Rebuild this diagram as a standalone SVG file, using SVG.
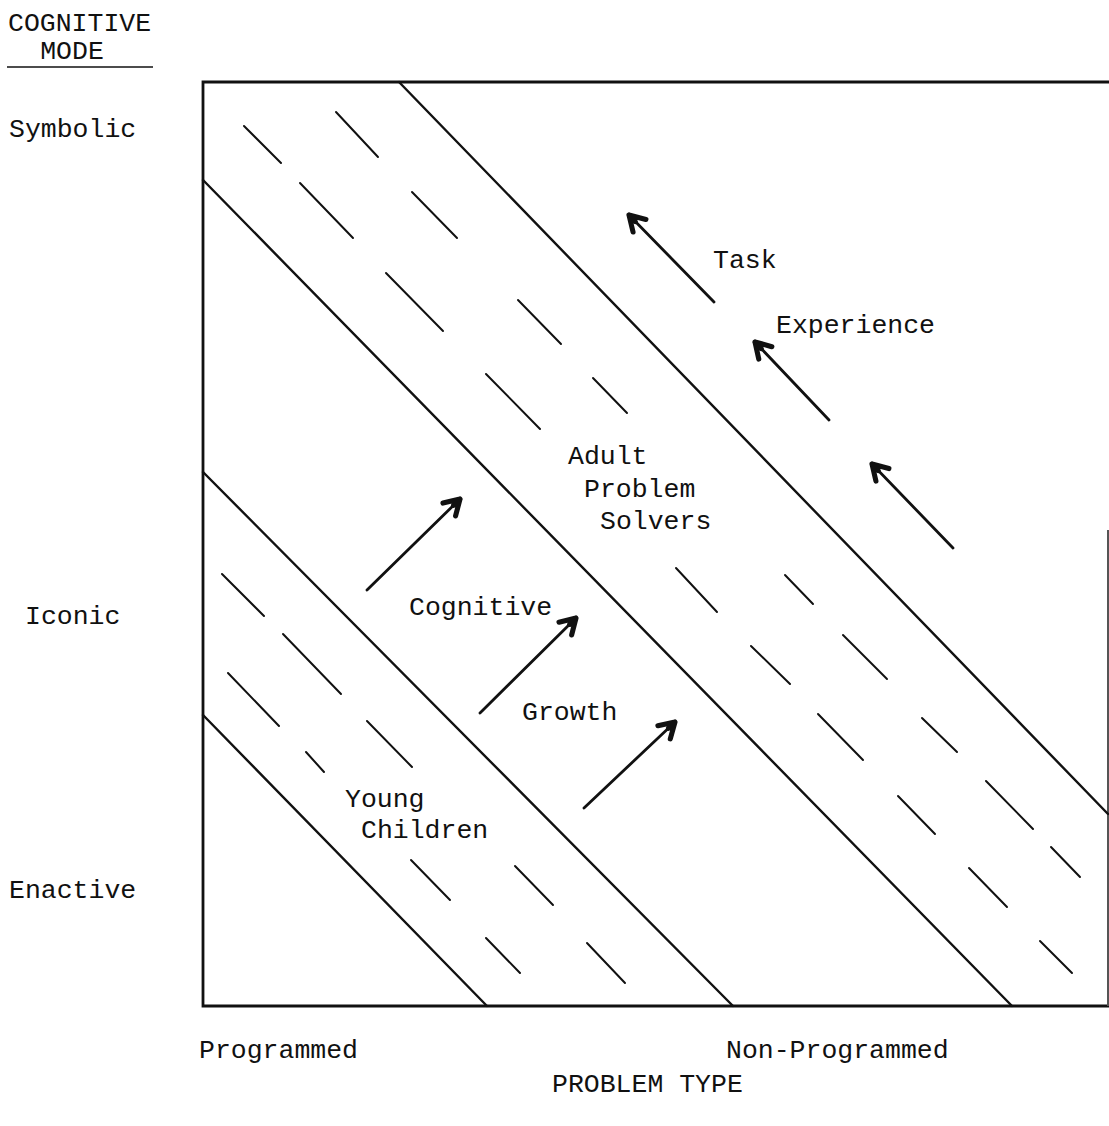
<svg xmlns="http://www.w3.org/2000/svg" width="1109" height="1126" viewBox="0 0 1109 1126">
  <style>
    .txt { font-family: "Liberation Mono", "DejaVu Sans Mono", monospace; font-size: 26.5px; fill: #111; }
    .frame { fill: none; stroke: #111; stroke-width: 2.8; stroke-linecap: square; }
    .band { stroke: #111; stroke-width: 2.4; stroke-linecap: round; }
    .dash { stroke: #111; stroke-width: 2; stroke-linecap: round; }
    .arrow { stroke: #111; stroke-width: 2.8; stroke-linecap: round; marker-end: url(#head); }
  </style>
  <defs>
    <marker id="head" markerUnits="userSpaceOnUse" markerWidth="30" markerHeight="30" viewBox="-16 -10 20 20" refX="0" refY="0" orient="auto">
      <path d="M -10 -6 L 0 0 L -10 6 M -6 0 L 0 0" fill="none" stroke="#111" stroke-width="3.4" stroke-linecap="round" stroke-linejoin="round"/>
    </marker>
  </defs>
  <rect width="1109" height="1126" fill="#fff"/>

  <!-- plot frame -->
  <g id="frame">
    <path class="frame" d="M 1109 82 L 203 82 L 203 1006 L 1108 1006"/>
    <line x1="1108" y1="530" x2="1108" y2="1006" stroke="#555" stroke-width="2"/>
  </g>

  <!-- band boundaries -->
  <g id="bands">
    <line class="band" x1="399" y1="82" x2="1108" y2="814"/>
    <line class="band" x1="203" y1="180" x2="1012" y2="1006"/>
    <line class="band" x1="203" y1="472" x2="733" y2="1006"/>
    <line class="band" x1="203" y1="715" x2="487" y2="1006"/>
  </g>

  <!-- adult band hatching -->
  <g id="adult-hatch">
    <line class="dash" x1="244" y1="126" x2="281" y2="163"/>
    <line class="dash" x1="336" y1="112" x2="378" y2="157"/>
    <line class="dash" x1="300" y1="183" x2="353" y2="238"/>
    <line class="dash" x1="412" y1="192" x2="457" y2="238"/>
    <line class="dash" x1="386" y1="273" x2="443" y2="331"/>
    <line class="dash" x1="518" y1="300" x2="561" y2="344"/>
    <line class="dash" x1="486" y1="374" x2="540" y2="429"/>
    <line class="dash" x1="593" y1="378" x2="627" y2="413"/>
    <line class="dash" x1="676" y1="568" x2="717" y2="612"/>
    <line class="dash" x1="785" y1="575" x2="813" y2="604"/>
    <line class="dash" x1="751" y1="646" x2="790" y2="684"/>
    <line class="dash" x1="843" y1="635" x2="887" y2="679"/>
    <line class="dash" x1="818" y1="714" x2="863" y2="760"/>
    <line class="dash" x1="922" y1="718" x2="957" y2="752"/>
    <line class="dash" x1="898" y1="796" x2="935" y2="834"/>
    <line class="dash" x1="986" y1="781" x2="1033" y2="829"/>
    <line class="dash" x1="969" y1="868" x2="1007" y2="907"/>
    <line class="dash" x1="1051" y1="847" x2="1080" y2="877"/>
    <line class="dash" x1="1040" y1="941" x2="1072" y2="973"/>
  </g>

  <!-- children band hatching -->
  <g id="children-hatch">
    <line class="dash" x1="222" y1="574" x2="264" y2="616"/>
    <line class="dash" x1="283" y1="634" x2="341" y2="694"/>
    <line class="dash" x1="228" y1="673" x2="279" y2="726"/>
    <line class="dash" x1="306" y1="752" x2="324" y2="772"/>
    <line class="dash" x1="367" y1="721" x2="412" y2="767"/>
    <line class="dash" x1="411" y1="860" x2="450" y2="900"/>
    <line class="dash" x1="515" y1="866" x2="553" y2="905"/>
    <line class="dash" x1="486" y1="938" x2="520" y2="973"/>
    <line class="dash" x1="587" y1="943" x2="625" y2="983"/>
  </g>

  <!-- trend arrows -->
  <g id="connectors">
    <line class="arrow" x1="714" y1="302" x2="629" y2="215"/>
    <line class="arrow" x1="829" y1="420" x2="755" y2="342"/>
    <line class="arrow" x1="953" y1="548" x2="872" y2="464"/>
    <line class="arrow" x1="367" y1="590" x2="460" y2="499"/>
    <line class="arrow" x1="480" y1="713" x2="576" y2="618"/>
    <line class="arrow" x1="584" y1="808" x2="675" y2="722"/>
  </g>

  <!-- axis titles and levels -->
  <g id="axis-mode">
    <text class="txt" x="8" y="31">COGNITIVE</text>
    <text class="txt" x="72" y="59" text-anchor="middle">MODE</text>
    <line x1="7" y1="67" x2="153" y2="67" stroke="#111" stroke-width="1.6"/>
    <text class="txt" x="9" y="137">Symbolic</text>
    <text class="txt" x="25" y="624">Iconic</text>
    <text class="txt" x="9" y="898">Enactive</text>
  </g>
  <g id="axis-type">
    <text class="txt" x="199" y="1058">Programmed</text>
    <text class="txt" x="726" y="1058">Non-Programmed</text>
    <text class="txt" x="552" y="1092">PROBLEM TYPE</text>
  </g>

  <g id="label-task">
    <text class="txt" x="713" y="268">Task</text>
    <text class="txt" x="776" y="333">Experience</text>
  </g>
  <g id="label-adult">
    <text class="txt" x="568" y="464">Adult</text>
    <text class="txt" x="584" y="497">Problem</text>
    <text class="txt" x="600" y="529">Solvers</text>
  </g>
  <g id="label-growth">
    <text class="txt" x="409" y="615">Cognitive</text>
    <text class="txt" x="522" y="720">Growth</text>
  </g>
  <g id="label-children">
    <text class="txt" x="345" y="807">Young</text>
    <text class="txt" x="361" y="838">Children</text>
  </g>
</svg>
